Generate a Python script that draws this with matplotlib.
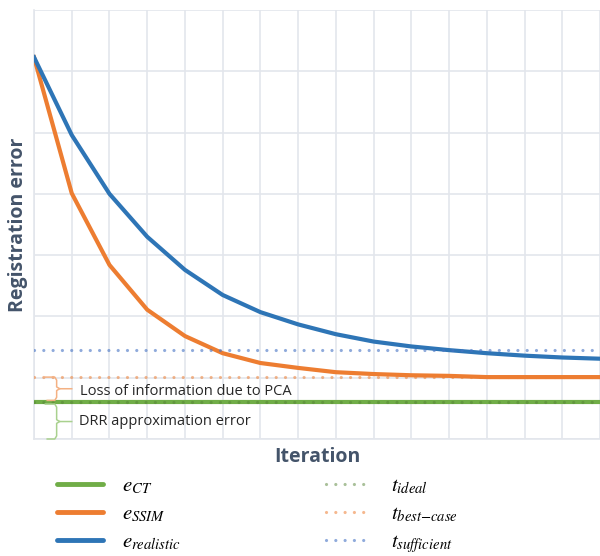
import matplotlib
matplotlib.use("Agg")
import matplotlib.pyplot as plt
from matplotlib.lines import Line2D
import numpy as np

# ---- data ----
iterations = list(range(16))
e_realistic = [6.23, 4.96, 4.00, 3.30, 2.76, 2.35, 2.07, 1.87, 1.71, 1.59, 1.51, 1.45, 1.40, 1.36, 1.33, 1.31]
e_ssim = [6.23, 4.01, 2.84, 2.11, 1.68, 1.40, 1.24, 1.16, 1.09, 1.06, 1.04, 1.03, 1.01, 1.01, 1.01, 1.01]
e_ct_level = 0.60
t_ideal_level = 0.60
t_best_level = 1.01
t_sufficient_level = 1.45

legend_labels = [r"$e_{CT}$", r"$e_{SSIM}$", r"$e_{realistic}$",
                 r"$t_{ideal}$", r"$t_{best\mathrm{-}case}$", r"$t_{sufficient}$"]
ann_pca = "Loss of information due to PCA"
ann_drr = "DRR approximation error"

GREEN = "#70AD47"
ORANGE = "#ED7D31"
BLUE = "#2E75B6"
LABEL_COLOR = "#44546A"
GRID = "#E3E6EC"

plt.rcParams["mathtext.fontset"] = "stix"

fig = plt.figure(figsize=(6.0, 5.56), dpi=100)
ax = fig.add_axes([34 / 600, 1 - 439 / 556, 1 - 34 / 600, (439 - 10) / 556])

x = np.array(iterations)
ax.plot(x, np.full(len(x), e_ct_level), color=GREEN, lw=3.0, solid_capstyle="butt", zorder=3)
ax.plot(x, e_ssim, color=ORANGE, lw=3.0, zorder=3)
ax.plot(x, e_realistic, color=BLUE, lw=3.0, zorder=3)

dot_style = dict(lw=2.3, linestyle=(0, (0.01, 2.9)), dash_capstyle="round", zorder=4)
ax.plot(x, np.full(len(x), t_ideal_level), color="#548235", alpha=0.5, **dot_style)
ax.plot(x, np.full(len(x), t_best_level), color=ORANGE, alpha=0.55, **dot_style)
ax.plot(x, np.full(len(x), t_sufficient_level), color="#4472C4", alpha=0.6, **dot_style)

ax.set_xlim(0, 566 / 38)
ax.set_ylim(0, 7)
ax.set_xticks(np.arange(0, 16, 1))
ax.set_yticks(np.arange(0, 8, 1))
ax.tick_params(length=0, labelbottom=False, labelleft=False)
ax.grid(True, color=GRID, lw=1.2, zorder=0)
ax.set_axisbelow(True)
for s in ["top", "right"]:
    ax.spines[s].set_visible(False)
for s in ["left", "bottom"]:
    ax.spines[s].set_color(GRID)
    ax.spines[s].set_linewidth(1.2)


def brace(y_low, y_high, color):
    xs = 0.6  # brace spine
    xa = 0.3  # arm ends
    xt = 1.0  # tip end
    mid = (y_low + y_high) / 2
    r = 0.05
    px = [xa, xs - 0.05, xs, xs, xs + 0.08, xt]
    py = [y_high, y_high, y_high - r, mid + r * 0.6, mid, mid]
    ax.plot(px, py, color=color, lw=1.1, zorder=5, clip_on=False)
    px2 = [xs + 0.08, xs, xs, xs - 0.05, xa + 0.05]
    py2 = [mid, mid - r * 0.6, y_low + r, y_low, y_low]
    ax.plot(px2, py2, color=color, lw=1.1, zorder=5, clip_on=False)
    return mid


m1 = brace(e_ct_level + 0.03, t_best_level, "#F4B183")
m2 = brace(0.0, e_ct_level - 0.03, "#A9D18E")
ax.text(1.21, m1 - 0.04, ann_pca, fontsize=10.5, family="Open Sans", color="#262626", va="center", ha="left", zorder=6)
ax.text(1.19, m2, ann_drr, fontsize=10.5, family="Open Sans", color="#262626", va="center", ha="left", zorder=6)

ax.set_ylabel("Registration error", fontsize=14, fontweight="bold", family="Open Sans", color=LABEL_COLOR, labelpad=4)
ax.set_xlabel("Iteration", fontsize=14, fontweight="bold", family="Open Sans", color=LABEL_COLOR, labelpad=6)

handles = [
    Line2D([], [], color=GREEN, lw=3.5, solid_capstyle="round"),
    Line2D([], [], color=ORANGE, lw=3.5, solid_capstyle="round"),
    Line2D([], [], color=BLUE, lw=3.5, solid_capstyle="round"),
    Line2D([], [], color="#548235", alpha=0.5, lw=2.3, linestyle=(0, (0.01, 2.9)), dash_capstyle="round"),
    Line2D([], [], color=ORANGE, alpha=0.55, lw=2.3, linestyle=(0, (0.01, 2.9)), dash_capstyle="round"),
    Line2D([], [], color="#4472C4", alpha=0.6, lw=2.3, linestyle=(0, (0.01, 2.9)), dash_capstyle="round"),
]
fig.legend(handles, legend_labels, ncol=2, loc="upper left",
           bbox_to_anchor=(57 / 600, 1 - 475 / 556), frameon=False,
           fontsize=15, handlelength=2.2, handletextpad=0.9,
           columnspacing=7.0, labelspacing=0.35, borderpad=0, borderaxespad=0)

fig.savefig("out.png", dpi=100)
